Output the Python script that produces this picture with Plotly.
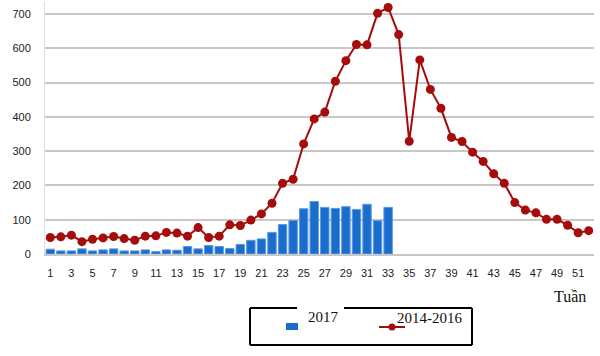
import plotly.graph_objects as go

weeks_2017 = list(range(1, 34))
cases_2017 = [14, 9, 9, 15, 9, 12, 15, 9, 9, 12, 7, 12, 11, 22, 15, 25, 22, 16, 28, 40,
              44, 63, 86, 98, 132, 153, 136, 133, 138, 130, 145, 97, 136]

weeks_avg = list(range(1, 53))
cases_avg = [48, 50, 55, 36, 43, 47, 51, 45, 40, 52, 53, 63, 61, 52, 77, 48, 52, 85, 83, 99,
             117, 148, 206, 218, 321, 394, 414, 504, 564, 611, 610, 702, 719, 640, 329, 566,
             480, 425, 340, 328, 297, 270, 234, 206, 150, 128, 120, 101, 101, 84, 62, 68]

x_ticks = list(range(1, 52, 2))
y_ticks = [0, 100, 200, 300, 400, 500, 600, 700]

BLUE = "#1a6dcc"
RED = "#a50d0d"

W, H = 600, 356
L, R, T, B = 45, 6, 2, 102
PW, PH = W - L - R, H - T - B
Y_TOP = 735  # keeps 700 gridline at the same pixel row as the reference


def px(xp):
    return (xp - L) / PW


def py(yp):
    return (H - B - yp) / PH


fig = go.Figure()
fig.add_trace(go.Bar(x=weeks_2017, y=cases_2017, name="2017",
                     marker=dict(color=BLUE, line=dict(color="#5c9be0", width=1)),
                     showlegend=False))
fig.add_trace(go.Scatter(x=weeks_avg, y=cases_avg, name="2014-2016", mode="lines+markers",
                         line=dict(color=RED, width=2),
                         marker=dict(color=RED, size=9),
                         cliponaxis=False, showlegend=False))

shapes = []
lb = dict(type="line", xref="paper", yref="paper", line=dict(color="black", width=2))
shapes.append({**lb, "x0": px(250), "x1": px(297), "y0": py(308), "y1": py(308)})
shapes.append({**lb, "x0": px(344), "x1": px(472), "y0": py(308), "y1": py(308)})
shapes.append({**lb, "x0": px(250), "x1": px(472), "y0": py(345), "y1": py(345)})
shapes.append({**lb, "x0": px(250), "x1": px(250), "y0": py(308), "y1": py(345)})
shapes.append({**lb, "x0": px(472), "x1": px(472), "y0": py(308), "y1": py(345)})
shapes.append(dict(type="rect", xref="paper", yref="paper", x0=px(286), x1=px(298),
                   y0=py(323), y1=py(330), fillcolor=BLUE, line=dict(width=0)))
shapes.append(dict(type="line", xref="paper", yref="paper", x0=px(379), x1=px(405),
                   y0=py(327), y1=py(327), line=dict(color=RED, width=2)))
shapes.append(dict(type="circle", xref="paper", yref="paper", x0=px(388.5), x1=px(395.5),
                   y0=py(323.5), y1=py(330.5), fillcolor=RED, line=dict(width=0)))

serif = "Liberation Serif, Times New Roman, serif"
annotations = [
    dict(text="2017", x=px(306), y=py(317), xref="paper", yref="paper", xanchor="left",
         yanchor="middle", showarrow=False, font=dict(family=serif, size=15, color="#111")),
    dict(text="2014-2016", x=px(395), y=py(318), xref="paper", yref="paper", xanchor="left",
         yanchor="middle", showarrow=False, font=dict(family=serif, size=15, color="#111")),
    dict(text="Tuần", x=px(552), y=py(296), xref="paper", yref="paper", xanchor="left",
         yanchor="middle", showarrow=False, font=dict(family=serif, size=16, color="#111")),
]

fig.update_layout(
    width=W, height=H,
    margin=dict(l=L, r=R, t=T, b=B, pad=0, autoexpand=False),
    paper_bgcolor="white", plot_bgcolor="white",
    bargap=0.2, hovermode=False,
    shapes=shapes, annotations=annotations,
    font=dict(family="Liberation Sans, Arial, sans-serif", color="#222"),
)
fig.update_xaxes(range=[0.5, 52.5], tickvals=x_ticks, ticktext=[str(v) for v in x_ticks],
                 showgrid=False, zeroline=False, showline=True, linecolor="#c8c8c8", linewidth=2,
                 ticks="", tickfont=dict(size=11, color="#222"), ticklabelstandoff=8)
fig.update_yaxes(range=[0, Y_TOP], tickvals=y_ticks, showgrid=True, gridcolor="#c8c8c8",
                 gridwidth=2, zeroline=False, showline=True, linecolor="#d6e4f2", linewidth=1,
                 ticks="", tickfont=dict(size=11, color="#222"), ticklabelstandoff=11)

fig.write_html("out.html", config={"displayModeBar": False, "staticPlot": True},
               post_script="document.body.style.margin='0';document.body.style.padding='0';")
